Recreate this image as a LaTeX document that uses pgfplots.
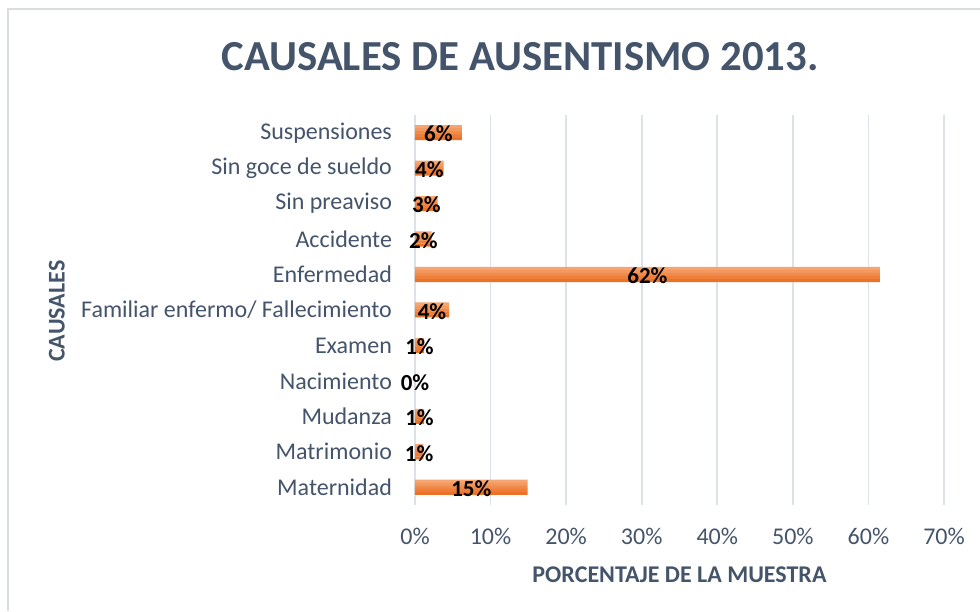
\documentclass[border=0pt]{standalone}
\usepackage{fontspec}
\setmainfont{Carlito}
\usepackage{pgfplots}
\usepackage{pgfplotstable}
\pgfplotsset{compat=1.18}

\definecolor{txt}{HTML}{44546A}
\definecolor{gridc}{HTML}{DCE2EA}
\definecolor{frame}{HTML}{D9DCE1}
\definecolor{bartop}{HTML}{F6A570}
\definecolor{barbot}{HTML}{EC7227}

% cat: 0 = Maternidad (bottom) ... 10 = Suspensiones (top)
\pgfplotstableread{
cat v lab
0 14.9 15
1 1.1 1
2 1.2 1
3 0.0 0
4 1.2 1
5 4.5 4
6 61.5 62
7 2.2 2
8 3.0 3
9 3.8 4
10 6.2 6
}\causas

\begin{document}
\begin{tikzpicture}
\useasboundingbox (0,0) rectangle (490pt,305.5pt);
\draw[frame, line width=1pt] (4.2pt,0) -- (4.2pt,301pt) -- (490pt,301pt);
\begin{axis}[
  at={(207.5pt,53pt)}, anchor=south west,
  scale only axis,
  width=264.5pt, height=195pt,
  xmin=0, xmax=70,
  ymin=-0.5, ymax=10.5,
  xtick={0,10,...,70},
  xticklabels={0\%,10\%,20\%,30\%,40\%,50\%,60\%,70\%},
  ytick={0,...,10},
  yticklabels={Maternidad,Matrimonio,Mudanza,Nacimiento,Examen,Familiar enfermo/ Fallecimiento,Enfermedad,Accidente,Sin preaviso,Sin goce de sueldo,Suspensiones},
  xmajorgrids,
  major grid style={gridc, line width=0.8pt},
  axis line style={draw=none},
  tick style={draw=none},
  x tick label style={font=\fontsize{12}{14}\selectfont, text=txt, yshift=-8pt},
  y tick label style={font=\fontsize{12}{14}\selectfont, text=txt, anchor=east, xshift=-8pt},
  title={CAUSALES DE AUSENTISMO 2013.},
  title style={at={(axis description cs:0.1985,1.118)}, anchor=center,
    font=\fontsize{21.4}{25}\selectfont\bfseries, text=txt},
  xlabel={PORCENTAJE DE LA MUESTRA},
  xlabel style={at={(axis description cs:0.5,-0.18)}, anchor=center,
    font=\fontsize{12}{14}\selectfont\bfseries, text=txt},
  ylabel={CAUSALES},
  ylabel style={at={(axis description cs:-0.677,0.497)}, anchor=center, rotate=0,
    font=\fontsize{12}{14}\selectfont\bfseries, text=txt},
  clip=false,
  every axis plot/.append style={draw=none},
]
% bars drawn as five thin strips each, light at the top and darker below
\addplot[xbar, bar width=1.6pt, bar shift=3pt,    fill=bartop]               table[x=v, y=cat] {\causas};
\addplot[xbar, bar width=1.6pt, bar shift=1.5pt,  fill=bartop!75!barbot]     table[x=v, y=cat] {\causas};
\addplot[xbar, bar width=1.6pt, bar shift=0pt,    fill=bartop!50!barbot]     table[x=v, y=cat] {\causas};
\addplot[xbar, bar width=1.6pt, bar shift=-1.5pt, fill=bartop!25!barbot]     table[x=v, y=cat] {\causas};
\addplot[xbar, bar width=1.5pt, bar shift=-3pt,   fill=barbot]               table[x=v, y=cat] {\causas};
\addplot[only marks, mark=none,
  nodes near coords={\pgfplotspointmeta\%},
  point meta=explicit symbolic,
  every node near coord/.append style={anchor=center, inner sep=0pt, yshift=-0.7pt,
    font=\fontsize{11.5}{13}\selectfont\bfseries, text=black}]
  table[x expr=\thisrow{v}/2, y=cat, meta=lab] {\causas};
\end{axis}
\end{tikzpicture}
\end{document}
